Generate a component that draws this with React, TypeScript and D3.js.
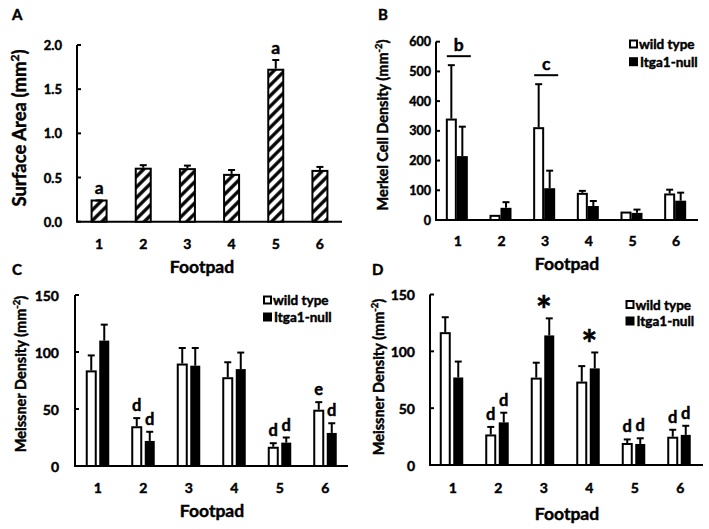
import React from "react";
import * as d3 from "d3";

// ---------- DATA ----------
const footpads = ["1", "2", "3", "4", "5", "6"];

// Panel A: surface area (mm^2)
const areaMean = [0.24, 0.6, 0.595, 0.53, 1.72, 0.575];
const areaErr = [0, 0.04, 0.04, 0.055, 0.11, 0.045];
const areaLetters = ["a", "", "", "", "a", ""];
const areaTicks = [0, 0.5, 1.0, 1.5, 2.0];

// Panel B: Merkel cell density
const merkelWT = [338, 14, 309, 88, 25, 86];
const merkelWTErr = [183, 3, 148, 10, 4, 16];
const merkelKO = [215, 41, 107, 47, 24, 65];
const merkelKOErr = [99, 19, 59, 17, 11, 27];
const merkelTicks = [0, 100, 200, 300, 400, 500, 600];
const merkelSig = ["b", "", "c", "", "", ""];

// Panel C: Meissner density
const meissCWT = [83, 34, 89, 77, 16, 48.5];
const meissCWTErr = [14, 8, 14.5, 14, 4, 7.5];
const meissCKO = [110, 22, 88, 85, 20.5, 29];
const meissCKOErr = [14, 8, 15.5, 14.5, 4.5, 8.5];
const meissCWTLetters = ["", "d", "", "", "d", "e"];
const meissCKOLetters = ["", "d", "", "", "d", "d"];

// Panel D: Meissner density
const meissDWT = [116, 26, 76, 72.5, 18.5, 24];
const meissDWTErr = [14, 7.5, 14, 14.5, 4, 7];
const meissDKO = [77, 37.5, 114, 85, 18.5, 26.5];
const meissDKOErr = [14, 8.5, 15, 14, 5, 8];
const meissDWTLetters = ["", "d", "", "", "d", "d"];
const meissDKOLetters = ["", "d", "", "", "d", "d"];
const meissDStars = ["", "", "*", "*", "", ""];

const meissTicks = [0, 50, 100, 150];
const legendLabels = ["wild type", "Itga1-null"];

// ---------- STYLE ----------
const FONT = "Lato, 'Open Sans', 'DejaVu Sans', sans-serif";
const W = 700;

type FrameProps = {
  x: d3.ScaleBand<string>;
  y: d3.ScaleLinear<number, number>;
  ticks: number[];
  fmt: (v: number) => string;
  tickFont: number;
  tickGap: number;
  catY: number;
  catFont: number;
  xTitleX: number;
  xTitleY: number;
  xTitleFont: number;
  yTitleMain: string;
  yTitleSup: string;
  yTitleX: number;
  yTitleY: number;
  yTitleFont: number;
  panel: string;
  panelX: number;
  panelY: number;
};

function Frame(p: FrameProps) {
  const [xl, xr] = p.x.range();
  const [y0, y1] = p.y.range();
  return (
    <g fontFamily={FONT} fontWeight={W}>
      <text x={p.panelX} y={p.panelY} fontSize={15}>
        {p.panel}
      </text>
      <line x1={xl} x2={xl} y1={y0} y2={y1} stroke="#000" strokeWidth={2} />
      <line x1={xl - 1} x2={xr} y1={y0} y2={y0} stroke="#000" strokeWidth={2} />
      {p.ticks.map((t) => (
        <g key={t}>
          <line x1={xl} x2={xl + 4} y1={p.y(t)} y2={p.y(t)} stroke="#000" strokeWidth={2} />
          <text
            x={xl - p.tickGap}
            y={p.y(t)}
            textAnchor="end"
            dominantBaseline="central"
            fontSize={p.tickFont}
          >
            {p.fmt(t)}
          </text>
        </g>
      ))}
      {p.x.domain().map((c) => (
        <text
          key={c}
          x={(p.x(c) as number) + p.x.bandwidth() / 2}
          y={p.catY}
          textAnchor="middle"
          dominantBaseline="central"
          fontSize={p.catFont}
        >
          {c}
        </text>
      ))}
      <text x={p.xTitleX} y={p.xTitleY} textAnchor="middle" fontSize={p.xTitleFont}>
        Footpad
      </text>
      <text
        transform={`translate(${p.yTitleX},${p.yTitleY}) rotate(-90)`}
        textAnchor="middle"
        dominantBaseline="central"
        fontSize={p.yTitleFont}
      >
        {p.yTitleMain}
        <tspan dy="-0.45em" fontSize="65%">
          {p.yTitleSup}
        </tspan>
        <tspan dy="0.3em">)</tspan>
      </text>
    </g>
  );
}

function Legend({ x, y, dy }: { x: number; y: number; dy: number }) {
  return (
    <g fontFamily={FONT} fontWeight={W} fontSize={13.5}>
      <rect x={x} y={y - 3.5} width={7} height={7} fill="#fff" stroke="#000" strokeWidth={2} />
      <text x={x + 9} y={y} dominantBaseline="central">
        {legendLabels[0]}
      </text>
      <rect x={x - 1} y={y + dy - 4.5} width={9} height={9} fill="#000" />
      <text x={x + 10} y={y + dy} dominantBaseline="central">
        {legendLabels[1]}
      </text>
    </g>
  );
}

function ErrBar({ cx, yTop, yBar }: { cx: number; yTop: number; yBar: number }) {
  if (Math.abs(yBar - yTop) < 0.5) return null;
  return (
    <g stroke="#000" strokeWidth={2}>
      <line x1={cx} x2={cx} y1={yBar} y2={yTop} />
      <line x1={cx - 3.5} x2={cx + 3.5} y1={yTop} y2={yTop} />
    </g>
  );
}

type GroupProps = {
  x: d3.ScaleBand<string>;
  y: d3.ScaleLinear<number, number>;
  wt: number[];
  wtErr: number[];
  ko: number[];
  koErr: number[];
  wtOff: number;
  wtW: number;
  koOff: number;
  koW: number;
  wtLetters?: string[];
  koLetters?: string[];
  stars?: string[];
};

function GroupBars(p: GroupProps) {
  return (
    <g fontFamily={FONT} fontWeight={W}>
      {footpads.map((c, i) => {
        const cx = (p.x(c) as number) + p.x.bandwidth() / 2;
        const y0 = p.y(0);
        const wx = cx + p.wtOff;
        const kx = cx + p.koOff;
        const wTop = p.y(p.wt[i] + p.wtErr[i]);
        const kTop = p.y(p.ko[i] + p.koErr[i]);
        return (
          <g key={c}>
            <rect
              x={wx}
              y={p.y(p.wt[i])}
              width={p.wtW}
              height={y0 - p.y(p.wt[i])}
              fill="#fff"
              stroke="#000"
              strokeWidth={2}
            />
            <rect x={kx} y={p.y(p.ko[i])} width={p.koW} height={y0 - p.y(p.ko[i])} fill="#000" />
            <ErrBar cx={wx + p.wtW / 2} yBar={p.y(p.wt[i]) - 1} yTop={wTop} />
            <ErrBar cx={kx + p.koW / 2} yBar={p.y(p.ko[i])} yTop={kTop} />
            {p.wtLetters && p.wtLetters[i] && (
              <text
                x={wx + p.wtW / 2}
                y={wTop - 13}
                textAnchor="middle"
                dominantBaseline="central"
                fontSize={16.5}
              >
                {p.wtLetters[i]}
              </text>
            )}
            {p.koLetters && p.koLetters[i] && (
              <text
                x={kx + p.koW / 2}
                y={kTop - 13}
                textAnchor="middle"
                dominantBaseline="central"
                fontSize={16.5}
              >
                {p.koLetters[i]}
              </text>
            )}
            {p.stars && p.stars[i] && (
              <text x={cx} y={Math.min(wTop, kTop) + 6} textAnchor="middle" fontSize={38}>
                {p.stars[i]}
              </text>
            )}
          </g>
        );
      })}
    </g>
  );
}

export default function App() {
  // Panel A
  const xA = d3.scaleBand<string>().domain(footpads).range([77, 342]);
  const yA = d3.scaleLinear().domain([0, 2]).range([221.7, 45]);
  // Panel B
  const xB = d3.scaleBand<string>().domain(footpads).range([436, 698]);
  const yB = d3.scaleLinear().domain([0, 600]).range([220, 41.7]);
  // Panel C
  const xC = d3.scaleBand<string>().domain(footpads).range([75, 348]);
  const yC = d3.scaleLinear().domain([0, 150]).range([466, 295]);
  // Panel D
  const xD = d3.scaleBand<string>().domain(footpads).range([430, 703]);
  const yD = d3.scaleLinear().domain([0, 150]).range([465, 294.5]);

  const fmtA = (v: number) => d3.format(".1f")(v);
  const fmtI = (v: number) => d3.format("d")(v);

  return (
    <svg
      width={709}
      height={529}
      style={{ position: "absolute", left: 0, top: 0, background: "#fff" }}
    >
      <style>{`text { stroke: #000; stroke-width: 0.45px; }`}</style>
      <defs>
        <pattern
          id="hatch"
          patternUnits="userSpaceOnUse"
          width={7.5}
          height={7.5}
          patternTransform="rotate(45)"
        >
          <rect width={7.5} height={7.5} fill="#fff" />
          <line x1={3.75} x2={3.75} y1={0} y2={7.5} stroke="#000" strokeWidth={3.3} />
        </pattern>
      </defs>
      <rect width={709} height={529} fill="#fff" />

      {/* Panel A */}
      <Frame
        x={xA}
        y={yA}
        ticks={areaTicks}
        fmt={fmtA}
        tickFont={13}
        tickGap={15}
        catY={243}
        catFont={14}
        xTitleX={202}
        xTitleY={273}
        xTitleFont={17.5}
        yTitleMain="Surface Area (mm"
        yTitleSup="2"
        yTitleX={19}
        yTitleY={128}
        yTitleFont={18.5}
        panel="A"
        panelX={12}
        panelY={20}
      />
      {footpads.map((c, i) => {
        const cx = (xA(c) as number) + xA.bandwidth() / 2;
        const top = yA(areaMean[i]);
        const eTop = yA(areaMean[i] + areaErr[i]);
        return (
          <g key={c}>
            <rect
              x={cx - 7.5}
              y={top}
              width={15}
              height={yA(0) - top}
              fill="url(#hatch)"
              stroke="#000"
              strokeWidth={2}
            />
            <ErrBar cx={cx} yBar={top - 1} yTop={eTop} />
            {areaLetters[i] && (
              <text
                x={cx}
                y={eTop - 13}
                textAnchor="middle"
                dominantBaseline="central"
                fontSize={17.5}
                fontWeight={W}
                fontFamily={FONT}
              >
                {areaLetters[i]}
              </text>
            )}
          </g>
        );
      })}

      {/* Panel B */}
      <Frame
        x={xB}
        y={yB}
        ticks={merkelTicks}
        fmt={fmtI}
        tickFont={12.5}
        tickGap={5}
        catY={240}
        catFont={14}
        xTitleX={567}
        xTitleY={270}
        xTitleFont={17.5}
        yTitleMain="Merkel Cell Density (mm"
        yTitleSup="-2"
        yTitleX={382}
        yTitleY={125}
        yTitleFont={14.5}
        panel="B"
        panelX={378}
        panelY={19.5}
      />
      <GroupBars
        x={xB}
        y={yB}
        wt={merkelWT}
        wtErr={merkelWTErr}
        ko={merkelKO}
        koErr={merkelKOErr}
        wtOff={-11}
        wtW={9}
        koOff={-1}
        koW={11}
      />
      {footpads.map((c, i) => {
        if (!merkelSig[i]) return null;
        const cx = (xB(c) as number) + xB.bandwidth() / 2 - 1;
        const ly = yB(merkelWT[i] + merkelWTErr[i]) - 9;
        return (
          <g key={"sig" + c}>
            <line x1={cx - 10} x2={cx + 14} y1={ly} y2={ly} stroke="#000" strokeWidth={2} />
            <text
              x={cx + 2}
              y={ly - 12}
              textAnchor="middle"
              dominantBaseline="central"
              fontSize={17.5}
              fontWeight={W}
              fontFamily={FONT}
            >
              {merkelSig[i]}
            </text>
          </g>
        );
      })}
      <Legend x={630} y={44} dy={17.7} />

      {/* Panel C */}
      <Frame
        x={xC}
        y={yC}
        ticks={meissTicks}
        fmt={fmtI}
        tickFont={14}
        tickGap={16}
        catY={487}
        catFont={14}
        xTitleX={212}
        xTitleY={517}
        xTitleFont={17.5}
        yTitleMain="Meissner Density (mm"
        yTitleSup="-2"
        yTitleX={20}
        yTitleY={374}
        yTitleFont={14.5}
        panel="C"
        panelX={12}
        panelY={275}
      />
      <GroupBars
        x={xC}
        y={yC}
        wt={meissCWT}
        wtErr={meissCWTErr}
        ko={meissCKO}
        koErr={meissCKOErr}
        wtOff={-11}
        wtW={9}
        koOff={1.5}
        koW={10}
        wtLetters={meissCWTLetters}
        koLetters={meissCKOLetters}
      />
      <Legend x={264} y={300} dy={17} />

      {/* Panel D */}
      <Frame
        x={xD}
        y={yD}
        ticks={meissTicks}
        fmt={fmtI}
        tickFont={14}
        tickGap={15}
        catY={487}
        catFont={14}
        xTitleX={567}
        xTitleY={520}
        xTitleFont={17.5}
        yTitleMain="Meissner Density (mm"
        yTitleSup="-2"
        yTitleX={378}
        yTitleY={377}
        yTitleFont={14.5}
        panel="D"
        panelX={372}
        panelY={275}
      />
      <GroupBars
        x={xD}
        y={yD}
        wt={meissDWT}
        wtErr={meissDWTErr}
        ko={meissDKO}
        koErr={meissDKOErr}
        wtOff={-12}
        wtW={9}
        koOff={0.5}
        koW={10}
        wtLetters={meissDWTLetters}
        koLetters={meissDKOLetters}
        stars={meissDStars}
      />
      <Legend x={626.5} y={304.5} dy={16.5} />
    </svg>
  );
}
